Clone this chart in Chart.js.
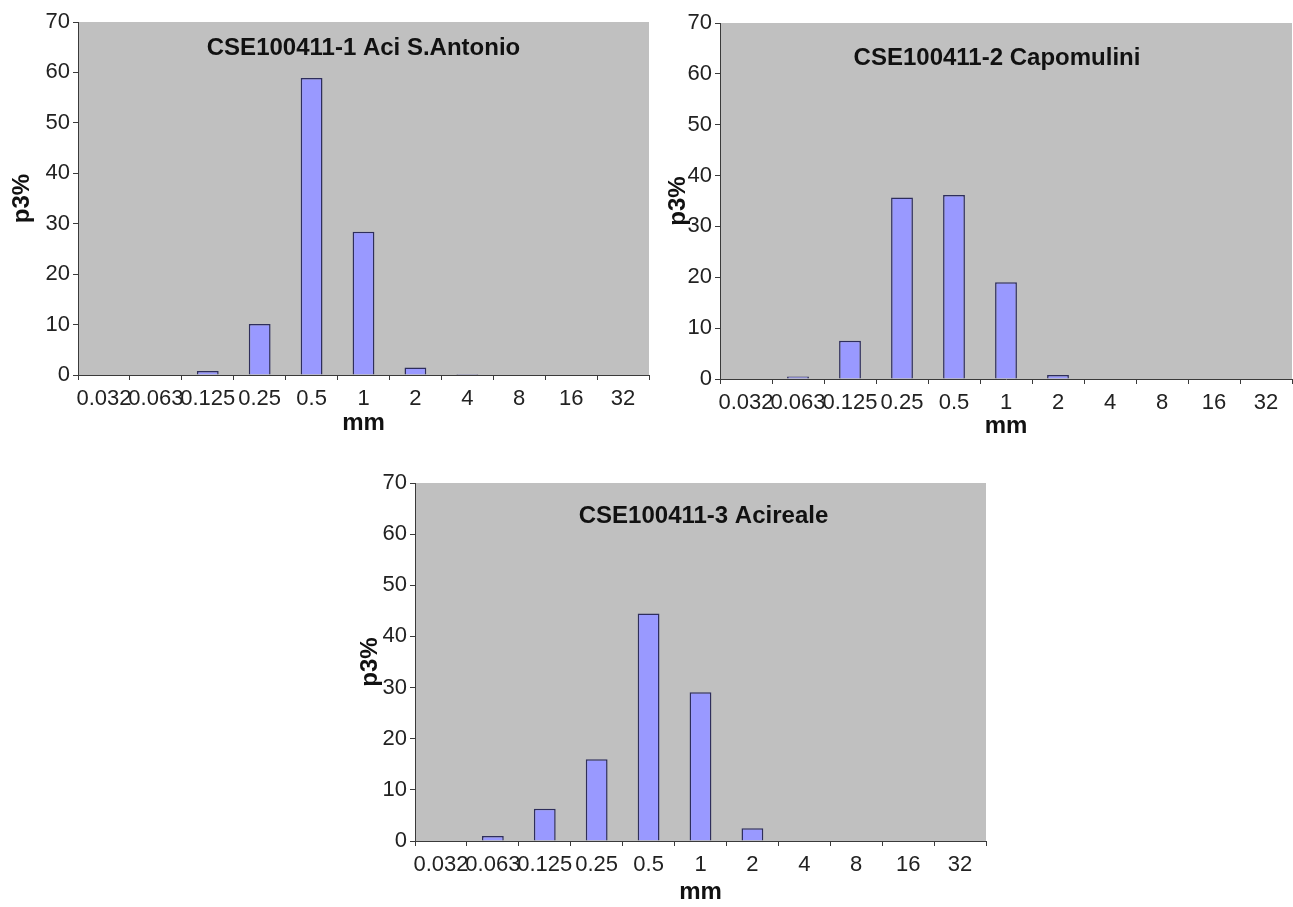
<!DOCTYPE html>
<html>
<head>
<meta charset="utf-8">
<title>p3% - CSE100411</title>
<script src="https://cdn.jsdelivr.net/npm/chart.js@4.4.1/dist/chart.umd.min.js"></script>
<style>
  body { margin: 0; background: #fff; width: 1293px; height: 907px; position: relative; overflow: hidden; }
  canvas { position: absolute; }
</style>
</head>
<body>
<canvas id="chart1" width="660" height="455" style="left:0px;top:0px"></canvas>
<canvas id="chart2" width="651" height="455" style="left:642px;top:0px"></canvas>
<canvas id="chart3" width="660" height="446" style="left:337px;top:461px"></canvas>
<script>
// grain size classes (mm) - same for all three samples
const sizeLabels = ['0.032', '0.063', '0.125', '0.25', '0.5', '1', '2', '4', '8', '16', '32'];

// p3% per class
const aciSAntonio = [0, 0, 0.8, 10.1, 58.9, 28.4, 1.5, 0.2, 0, 0, 0];
const capomulini  = [0, 0.5, 7.5, 35.7, 36.2, 19.0, 0.8, 0, 0, 0, 0];
const acireale    = [0, 1.0, 6.3, 16.0, 44.5, 29.1, 2.5, 0, 0, 0, 0];

const yMin = 0;
const yMax = 70;
const yStep = 10;

const fontFamily = '"Liberation Sans", Arial, sans-serif';
const axisColor = '#3a3a3a';

Chart.defaults.font.family = fontFamily;

// grey plot area like the Excel original
const plotBackground = {
    id: 'plotBackground',
    beforeDraw(chart) {
        const { ctx, chartArea: a } = chart;
        ctx.save();
        ctx.fillStyle = '#c0c0c0';
        ctx.fillRect(a.left, a.top, a.right - a.left, a.bottom - a.top);
        ctx.restore();
    }
};

// title sits inside the plot area, not above it
const innerTitle = {
    id: 'innerTitle',
    afterDatasetsDraw(chart, args, opts) {
        const { ctx, chartArea: a } = chart;
        ctx.save();
        ctx.font = 'bold 24px ' + fontFamily;
        ctx.fillStyle = '#111';
        ctx.textAlign = 'center';
        ctx.textBaseline = 'middle';
        ctx.fillText(opts.text, (a.left + a.right) / 2 + (opts.dx || 0), a.top + opts.dy);
        ctx.restore();
    }
};

function createChart(elementId, title, values, o) {
    return new Chart(document.getElementById(elementId), {
        type: 'bar',
        data: {
            labels: sizeLabels,
            datasets: [{
                label: title,
                data: values,
                backgroundColor: '#9999ff',
                borderColor: '#2e2e5c',
                borderWidth: 1.5,
                barPercentage: 0.42,
                categoryPercentage: 1.0
            }]
        },
        options: {
            responsive: false,
            animation: false,
            layout: { padding: o.padding },
            scales: {
                x: {
                    grid: { display: true, drawOnChartArea: false, drawTicks: true, tickLength: 5, color: axisColor, offset: true },
                    border: { display: true, color: axisColor, width: 1 },
                    ticks: {
                        autoSkip: false, maxRotation: 0, minRotation: 0, padding: 6,
                        color: '#222', font: { size: 22 }
                    },
                    title: {
                        display: true, text: 'mm', color: '#111',
                        font: { size: 24, weight: 'bold' },
                        padding: { top: 0, bottom: o.xTitlePad }
                    },
                    afterFit(scale) { scale.height = o.xAxisHeight; }
                },
                y: {
                    min: yMin,
                    max: yMax,
                    grid: { display: true, drawOnChartArea: false, drawTicks: true, tickLength: 5, color: axisColor },
                    border: { display: true, color: axisColor, width: 1 },
                    ticks: { stepSize: yStep, padding: 3, color: '#222', font: { size: 22 } },
                    title: {
                        display: true, text: 'p3%', color: '#111',
                        font: { size: 24, weight: 'bold' },
                        padding: { top: o.yTitlePad, bottom: 0 }
                    },
                    afterFit(scale) { scale.width = o.yAxisWidth; }
                }
            },
            plugins: {
                legend: { display: false },
                tooltip: { enabled: false },
                innerTitle: { text: title, dy: o.titleDy, dx: o.titleDx }
            }
        },
        plugins: [plotBackground, innerTitle]
    });
}

createChart('chart1', 'CSE100411-1 Aci S.Antonio', aciSAntonio, {
    padding: { top: 22, right: 11, bottom: 0, left: 0 },
    yAxisWidth: 78, xAxisHeight: 80, xTitlePad: 17, yTitlePad: 8, titleDy: 26, titleDx: 0
});
createChart('chart2', 'CSE100411-2 Capomulini', capomulini, {
    padding: { top: 23, right: 1, bottom: 0, left: 0 },
    yAxisWidth: 78, xAxisHeight: 76, xTitlePad: 14, yTitlePad: 22, titleDy: 35, titleDx: -9
});
createChart('chart3', 'CSE100411-3 Acireale', acireale, {
    padding: { top: 22, right: 11, bottom: 0, left: 0 },
    yAxisWidth: 78, xAxisHeight: 66, xTitlePad: 0, yTitlePad: 19, titleDy: 33, titleDx: 3
});
</script>
</body>
</html>
